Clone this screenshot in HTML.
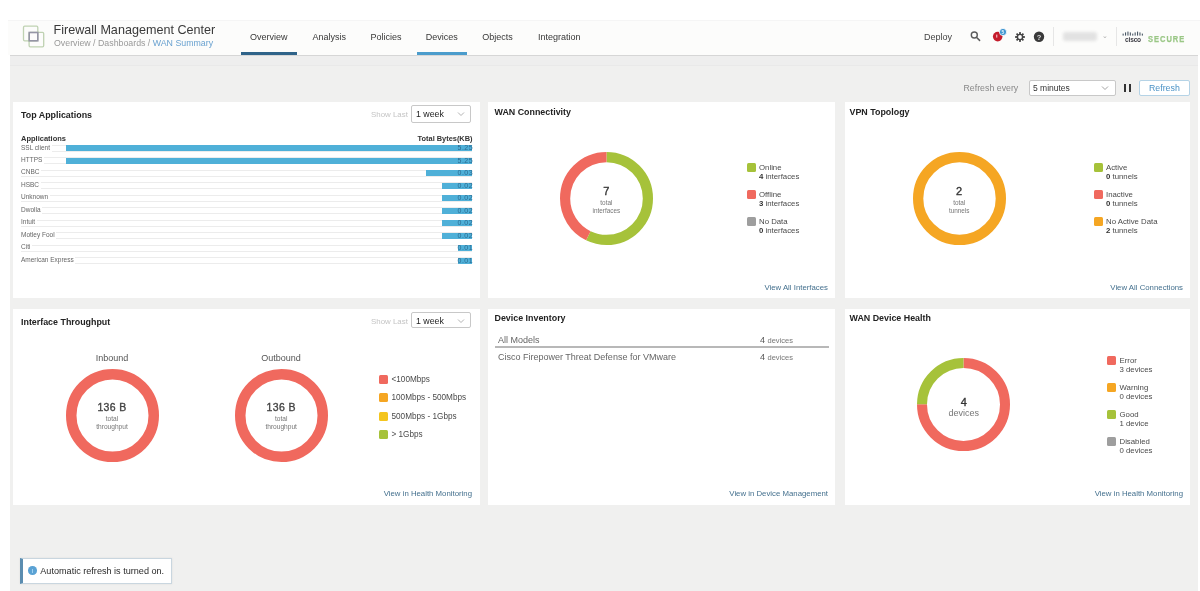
<!DOCTYPE html>
<html><head><meta charset="utf-8">
<style>
*{margin:0;padding:0;box-sizing:border-box}
html,body{width:1200px;height:591px;overflow:hidden;background:#fff;font-family:"Liberation Sans",sans-serif;color:#333}
.a{position:absolute;white-space:nowrap}
#main{position:absolute;left:10px;top:55px;width:1188px;height:536px;background:#f0f0ef;border-top:1px solid #d6d6d6}
#band{position:absolute;left:10px;top:56px;width:1188px;height:10px;background:#eeeeee;border-bottom:1px solid #e9e9e9}
.card{position:absolute;background:#fff}
.ttl{position:absolute;font-weight:bold;font-size:8.9px;color:#222}
.link{position:absolute;font-size:7.8px;color:#44708e;white-space:nowrap}
.sq{position:absolute;width:9px;height:9px;border-radius:1.5px}
.lg{position:absolute;font-size:7.8px;color:#4a4a4a;line-height:9px;white-space:nowrap}
.lg b{color:#333}
.nav{position:absolute;top:32px;font-size:9px;color:#383838}
.sel{position:absolute;border:1px solid #c8c8c8;border-radius:2px;background:#fff}
</style></head><body><div id="wrap" style="position:absolute;left:0;top:0;width:1200px;height:591px;overflow:hidden;filter:blur(0.45px)">

<!-- header -->
<div class="a" style="left:8px;top:20px;width:1192px;height:35px;background:#fcfcfb;border-top:1px solid #f5f5f5"></div>
<svg class="a" style="left:20px;top:23px" width="28" height="27" viewBox="0 0 28 27">
 <rect x="3.5" y="3.2" width="14.3" height="14.6" rx="1.2" fill="none" stroke="#bfd2b2" stroke-width="1.3"/>
 <rect x="9.1" y="9.4" width="14.6" height="14.4" rx="1.2" fill="none" stroke="#bfd2b2" stroke-width="1.3"/>
 <rect x="9.2" y="9.5" width="8.6" height="8.3" fill="none" stroke="#9595a5" stroke-width="1.6"/>
</svg>
<div class="a" style="left:53.5px;top:22.5px;font-size:12.6px;color:#3a3a3a">Firewall Management Center</div>
<div class="a" style="left:54px;top:38px;font-size:8.8px;color:#999">Overview / Dashboards / <span style="color:#6aa2d0">WAN Summary</span></div>

<div class="nav" style="left:250px">Overview</div>
<div class="nav" style="left:312.5px">Analysis</div>
<div class="nav" style="left:370.4px">Policies</div>
<div class="nav" style="left:425.8px">Devices</div>
<div class="nav" style="left:482.2px">Objects</div>
<div class="nav" style="left:538px">Integration</div>
<div class="a" style="left:241px;top:52px;width:56px;height:3px;background:#2f6389"></div>
<div class="a" style="left:417px;top:52px;width:50px;height:3px;background:#4b9ccc"></div>

<div class="a" style="left:924px;top:31.8px;font-size:9px;color:#444">Deploy</div>
<svg class="a" style="left:968px;top:29px" width="14" height="14" viewBox="0 0 14 14">
 <circle cx="6.3" cy="6" r="3.0" fill="none" stroke="#5c5c5c" stroke-width="1.4"/>
 <line x1="8.4" y1="8.2" x2="11.6" y2="11.4" stroke="#5c5c5c" stroke-width="1.5" stroke-linecap="round"/>
</svg>
<svg class="a" style="left:990px;top:26px" width="20" height="18" viewBox="0 0 20 18">
 <circle cx="7.7" cy="10.6" r="4.8" fill="#c41c2c"/>
 <circle cx="13" cy="6" r="3.6" fill="#3c94d0" stroke="#fff" stroke-width="0.8"/><text x="13" y="7.8" text-anchor="middle" font-family="Liberation Sans" font-weight="bold" font-size="5" fill="#e8f4fb">5</text><rect x="6.2" y="8.6" width="1.1" height="3" fill="#f3c9cc"/>
</svg>
<svg class="a" style="left:1013px;top:30px" width="14" height="14" viewBox="0 0 14 14">
 <g transform="translate(7,7)" fill="#444">
  <circle r="3.3"/>
  <rect x="-0.9" y="-4.9" width="1.8" height="9.8"/>
  <rect x="-0.9" y="-4.9" width="1.8" height="9.8" transform="rotate(45)"/>
  <rect x="-0.9" y="-4.9" width="1.8" height="9.8" transform="rotate(90)"/>
  <rect x="-0.9" y="-4.9" width="1.8" height="9.8" transform="rotate(135)"/>
  <circle r="1.9" fill="#fff"/>
 </g>
</svg>
<svg class="a" style="left:1032px;top:30px" width="14" height="14" viewBox="0 0 14 14">
 <circle cx="7" cy="6.8" r="5.2" fill="#3a3a3a"/>
 <text x="7" y="9.6" text-anchor="middle" font-family="Liberation Sans" font-weight="bold" font-size="7.5" fill="#ddd">?</text>
</svg>
<div class="a" style="left:1053px;top:27px;width:1px;height:19px;background:#e6e6e6"></div>
<div class="a" style="left:1063px;top:32px;width:34px;height:9px;background:#e2e2e2;border-radius:3px;filter:blur(1.5px)"></div>
<div class="a" style="left:1102px;top:32px;font-size:7px;color:#aaa">&#8964;</div>
<div class="a" style="left:1116px;top:27px;width:1px;height:19px;background:#e6e6e6"></div>
<svg class="a" style="left:1122px;top:31px" width="22" height="12" viewBox="0 0 22 12">
 <g fill="#4a5866">
  <rect x="0.6" y="2.6" width="1.1" height="2"/><rect x="3" y="1.4" width="1.1" height="3.2"/><rect x="5.4" y="0.6" width="1.1" height="4"/><rect x="7.8" y="1.4" width="1.1" height="3.2"/><rect x="10.2" y="2.6" width="1.1" height="2"/><rect x="12.6" y="1.4" width="1.1" height="3.2"/><rect x="15" y="0.6" width="1.1" height="4"/><rect x="17.4" y="1.4" width="1.1" height="3.2"/><rect x="19.8" y="2.6" width="1.1" height="2"/>
 </g>
 <text x="11" y="10.6" text-anchor="middle" font-family="Liberation Sans" font-weight="bold" font-size="6.6" fill="#3c3c44" letter-spacing="-0.2">cisco</text>
</svg>
<div class="a" style="left:1147.5px;top:32.5px;font-size:9.4px;line-height:normal;font-weight:bold;color:#9ac786;letter-spacing:1.25px;transform:scaleX(0.8);transform-origin:0 0;-webkit-text-stroke:0.25px #9ac786">SECURE</div>

<!-- main -->
<div id="main"></div><div id="band"></div>

<div class="a" style="left:963.5px;top:83px;font-size:8.8px;color:#888">Refresh every</div>
<div class="sel" style="left:1029px;top:79.5px;width:87px;height:16.5px"></div>
<div class="a" style="left:1033px;top:83px;font-size:8.5px;color:#333">5 minutes</div>
<svg class="a" style="left:1101px;top:85px" width="8" height="6" viewBox="0 0 8 6"><path d="M1 1.5 L4 4.5 L7 1.5" fill="none" stroke="#999" stroke-width="0.9"/></svg>
<div class="a" style="left:1124px;top:83.5px;width:2.3px;height:8.5px;background:#333"></div>
<div class="a" style="left:1128.5px;top:83.5px;width:2.3px;height:8.5px;background:#333"></div>
<div class="sel" style="left:1138.5px;top:79.5px;width:51px;height:16.5px;border-color:#b5d3e6"></div>
<div class="a" style="left:1149px;top:83px;font-size:8.8px;color:#4a92c6">Refresh</div>

<!-- cards -->
<div class="card" style="left:13px;top:102px;width:467px;height:196px"></div>
<div class="card" style="left:488px;top:102px;width:347px;height:196px"></div>
<div class="card" style="left:845px;top:102px;width:345px;height:196px"></div>
<div class="card" style="left:13px;top:309px;width:467px;height:196px"></div>
<div class="card" style="left:488px;top:309px;width:347px;height:196px"></div>
<div class="card" style="left:845px;top:309px;width:345px;height:196px"></div>

<!-- Top Applications -->
<div class="ttl" style="left:21px;top:109.5px">Top Applications</div>
<div class="a" style="left:371px;top:110px;font-size:7.9px;color:#c4c4c4">Show Last</div>
<div class="sel" style="left:411px;top:104.6px;width:59.5px;height:18.3px"></div>
<div class="a" style="left:416px;top:109px;font-size:8.8px;color:#222">1 week</div>
<svg class="a" style="left:456.5px;top:111px" width="8" height="6" viewBox="0 0 8 6"><path d="M1 1.5 L4 4.5 L7 1.5" fill="none" stroke="#aaa" stroke-width="0.9"/></svg>
<div class="a" style="left:21px;top:133.5px;font-size:7.5px;font-weight:bold;color:#333">Applications</div>
<div class="a" style="left:372px;top:134px;width:100.5px;text-align:right;font-size:7.4px;font-weight:bold;color:#333">Total Bytes(KB)</div>
<div class="a" style="left:21px;top:144.80px;width:451.4px;height:7px;border-top:1px solid #ececec;border-bottom:1px solid #ececec"></div>
<div class="a" style="left:21px;top:143.50px;font-size:6.5px;color:#666;line-height:8px;background:#fff;padding-right:1.5px">SSL client</div>
<div class="a" style="left:66px;top:145.30px;width:406.40px;height:6px;background:#4fb0d8"></div>
<div class="a" style="left:442px;top:144.30px;width:31px;text-align:right;font-size:7px;color:#2b6a90;line-height:8px;letter-spacing:0.45px">5.25</div>
<div class="a" style="left:21px;top:157.28px;width:451.4px;height:7px;border-top:1px solid #ececec;border-bottom:1px solid #ececec"></div>
<div class="a" style="left:21px;top:155.98px;font-size:6.5px;color:#666;line-height:8px;background:#fff;padding-right:1.5px">HTTPS</div>
<div class="a" style="left:66px;top:157.78px;width:406.40px;height:6px;background:#4fb0d8"></div>
<div class="a" style="left:442px;top:156.78px;width:31px;text-align:right;font-size:7px;color:#2b6a90;line-height:8px;letter-spacing:0.45px">5.25</div>
<div class="a" style="left:21px;top:169.76px;width:451.4px;height:7px;border-top:1px solid #ececec;border-bottom:1px solid #ececec"></div>
<div class="a" style="left:21px;top:168.46px;font-size:6.5px;color:#666;line-height:8px;background:#fff;padding-right:1.5px">CNBC</div>
<div class="a" style="left:426.4px;top:170.26px;width:46.00px;height:6px;background:#4fb0d8"></div>
<div class="a" style="left:442px;top:169.26px;width:31px;text-align:right;font-size:7px;color:#2b6a90;line-height:8px;letter-spacing:0.45px">0.03</div>
<div class="a" style="left:21px;top:182.24px;width:451.4px;height:7px;border-top:1px solid #ececec;border-bottom:1px solid #ececec"></div>
<div class="a" style="left:21px;top:180.94px;font-size:6.5px;color:#666;line-height:8px;background:#fff;padding-right:1.5px">HSBC</div>
<div class="a" style="left:442px;top:182.74px;width:30.40px;height:6px;background:#4fb0d8"></div>
<div class="a" style="left:442px;top:181.74px;width:31px;text-align:right;font-size:7px;color:#2b6a90;line-height:8px;letter-spacing:0.45px">0.02</div>
<div class="a" style="left:21px;top:194.72px;width:451.4px;height:7px;border-top:1px solid #ececec;border-bottom:1px solid #ececec"></div>
<div class="a" style="left:21px;top:193.42px;font-size:6.5px;color:#666;line-height:8px;background:#fff;padding-right:1.5px">Unknown</div>
<div class="a" style="left:442px;top:195.22px;width:30.40px;height:6px;background:#4fb0d8"></div>
<div class="a" style="left:442px;top:194.22px;width:31px;text-align:right;font-size:7px;color:#2b6a90;line-height:8px;letter-spacing:0.45px">0.02</div>
<div class="a" style="left:21px;top:207.20px;width:451.4px;height:7px;border-top:1px solid #ececec;border-bottom:1px solid #ececec"></div>
<div class="a" style="left:21px;top:205.90px;font-size:6.5px;color:#666;line-height:8px;background:#fff;padding-right:1.5px">Dwolla</div>
<div class="a" style="left:442px;top:207.70px;width:30.40px;height:6px;background:#4fb0d8"></div>
<div class="a" style="left:442px;top:206.70px;width:31px;text-align:right;font-size:7px;color:#2b6a90;line-height:8px;letter-spacing:0.45px">0.02</div>
<div class="a" style="left:21px;top:219.68px;width:451.4px;height:7px;border-top:1px solid #ececec;border-bottom:1px solid #ececec"></div>
<div class="a" style="left:21px;top:218.38px;font-size:6.5px;color:#666;line-height:8px;background:#fff;padding-right:1.5px">Intuit</div>
<div class="a" style="left:442px;top:220.18px;width:30.40px;height:6px;background:#4fb0d8"></div>
<div class="a" style="left:442px;top:219.18px;width:31px;text-align:right;font-size:7px;color:#2b6a90;line-height:8px;letter-spacing:0.45px">0.02</div>
<div class="a" style="left:21px;top:232.16px;width:451.4px;height:7px;border-top:1px solid #ececec;border-bottom:1px solid #ececec"></div>
<div class="a" style="left:21px;top:230.86px;font-size:6.5px;color:#666;line-height:8px;background:#fff;padding-right:1.5px">Motley Fool</div>
<div class="a" style="left:442px;top:232.66px;width:30.40px;height:6px;background:#4fb0d8"></div>
<div class="a" style="left:442px;top:231.66px;width:31px;text-align:right;font-size:7px;color:#2b6a90;line-height:8px;letter-spacing:0.45px">0.02</div>
<div class="a" style="left:21px;top:244.64px;width:451.4px;height:7px;border-top:1px solid #ececec;border-bottom:1px solid #ececec"></div>
<div class="a" style="left:21px;top:243.34px;font-size:6.5px;color:#666;line-height:8px;background:#fff;padding-right:1.5px">Citi</div>
<div class="a" style="left:457.5px;top:245.14px;width:14.90px;height:6px;background:#4fb0d8"></div>
<div class="a" style="left:442px;top:244.14px;width:31px;text-align:right;font-size:7px;color:#2b6a90;line-height:8px;letter-spacing:0.45px">0.01</div>
<div class="a" style="left:21px;top:257.12px;width:451.4px;height:7px;border-top:1px solid #ececec;border-bottom:1px solid #ececec"></div>
<div class="a" style="left:21px;top:255.82px;font-size:6.5px;color:#666;line-height:8px;background:#fff;padding-right:1.5px">American Express</div>
<div class="a" style="left:457.5px;top:257.62px;width:14.90px;height:6px;background:#4fb0d8"></div>
<div class="a" style="left:442px;top:256.62px;width:31px;text-align:right;font-size:7px;color:#2b6a90;line-height:8px;letter-spacing:0.45px">0.01</div>

<!-- WAN Connectivity -->
<div class="ttl" style="left:494.5px;top:106.5px">WAN Connectivity</div>
<svg class="a" style="left:557.90px;top:150.00px" width="97" height="97" viewBox="0 0 97 97"><g transform="rotate(-90 48.5 48.5)"><circle cx="48.5" cy="48.5" r="41.40" fill="none" stroke="#a6c23a" stroke-width="10.2" stroke-dasharray="148.642 260.124" stroke-dashoffset="0.000"/><circle cx="48.5" cy="48.5" r="41.40" fill="none" stroke="#f0695e" stroke-width="10.2" stroke-dasharray="111.482 260.124" stroke-dashoffset="-148.642"/></g></svg>
<div class="a" style="left:586.4px;top:184.8px;width:40px;text-align:center;font-size:11px;color:#333;-webkit-text-stroke:0.35px #333">7</div>
<div class="a" style="left:576.4px;top:198.8px;width:60px;text-align:center;font-size:6.4px;color:#777;line-height:8px">total<br>interfaces</div>
<div class="sq" style="left:746.5px;top:162.5px;background:#a6c23a"></div>
<div class="lg" style="left:759px;top:162.5px">Online<br><b>4</b> interfaces</div>
<div class="sq" style="left:746.5px;top:189.5px;background:#f0695e"></div>
<div class="lg" style="left:759px;top:189.5px">Offline<br><b>3</b> interfaces</div>
<div class="sq" style="left:746.5px;top:216.5px;background:#9e9e9e"></div>
<div class="lg" style="left:759px;top:216.5px">No Data<br><b>0</b> interfaces</div>
<div class="link" style="right:372px;top:282.5px">View All Interfaces</div>

<!-- VPN Topology -->
<div class="ttl" style="left:849.5px;top:106.5px">VPN Topology</div>
<svg class="a" style="left:910.70px;top:150.20px" width="97" height="97" viewBox="0 0 97 97"><g transform="rotate(-90 48.5 48.5)"><circle cx="48.5" cy="48.5" r="41.35" fill="none" stroke="#f5a623" stroke-width="10.3" stroke-dasharray="259.810 259.810" stroke-dashoffset="0.000"/></g></svg>
<div class="a" style="left:939px;top:184.8px;width:40px;text-align:center;font-size:11px;color:#333;-webkit-text-stroke:0.35px #333">2</div>
<div class="a" style="left:929.2px;top:199.3px;width:60px;text-align:center;font-size:6.4px;color:#777;line-height:8px">total<br>tunnels</div>
<div class="sq" style="left:1093.5px;top:162.5px;background:#a6c23a"></div>
<div class="lg" style="left:1106px;top:162.5px">Active<br><b>0</b> tunnels</div>
<div class="sq" style="left:1093.5px;top:189.5px;background:#f0695e"></div>
<div class="lg" style="left:1106px;top:189.5px">Inactive<br><b>0</b> tunnels</div>
<div class="sq" style="left:1093.5px;top:216.5px;background:#f5a623"></div>
<div class="lg" style="left:1106px;top:216.5px">No Active Data<br><b>2</b> tunnels</div>
<div class="link" style="right:17px;top:282.5px">View All Connections</div>

<!-- Interface Throughput -->
<div class="ttl" style="left:21px;top:316.5px">Interface Throughput</div>
<div class="a" style="left:371px;top:317px;font-size:7.9px;color:#c4c4c4">Show Last</div>
<div class="sel" style="left:411px;top:311.6px;width:59.5px;height:16.8px"></div>
<div class="a" style="left:416px;top:315.7px;font-size:8.8px;color:#222">1 week</div>
<svg class="a" style="left:456.5px;top:317.5px" width="8" height="6" viewBox="0 0 8 6"><path d="M1 1.5 L4 4.5 L7 1.5" fill="none" stroke="#aaa" stroke-width="0.9"/></svg>
<div class="a" style="left:82px;top:353px;width:60px;text-align:center;font-size:9px;color:#555">Inbound</div>
<div class="a" style="left:251px;top:353px;width:60px;text-align:center;font-size:9px;color:#555">Outbound</div>
<svg class="a" style="left:63.70px;top:367.20px" width="97" height="97" viewBox="0 0 97 97"><g transform="rotate(-90 48.5 48.5)"><circle cx="48.5" cy="48.5" r="41.25" fill="none" stroke="#f0695e" stroke-width="10.5" stroke-dasharray="259.181 259.181" stroke-dashoffset="0.000"/></g></svg>
<svg class="a" style="left:232.80px;top:367.20px" width="97" height="97" viewBox="0 0 97 97"><g transform="rotate(-90 48.5 48.5)"><circle cx="48.5" cy="48.5" r="41.25" fill="none" stroke="#f0695e" stroke-width="10.5" stroke-dasharray="259.181 259.181" stroke-dashoffset="0.000"/></g></svg>
<div class="a" style="left:82px;top:400.5px;width:60px;text-align:center;font-size:10.5px;color:#444;letter-spacing:0.35px;-webkit-text-stroke:0.35px #444">136 B</div>
<div class="a" style="left:82px;top:415.3px;width:60px;text-align:center;font-size:6.6px;color:#777;line-height:7.8px">total<br>throughput</div>
<div class="a" style="left:251.2px;top:400.5px;width:60px;text-align:center;font-size:10.5px;color:#444;letter-spacing:0.35px;-webkit-text-stroke:0.35px #444">136 B</div>
<div class="a" style="left:251.2px;top:415.3px;width:60px;text-align:center;font-size:6.6px;color:#777;line-height:7.8px">total<br>throughput</div>
<div class="sq" style="left:379px;top:374.5px;background:#f0695e"></div>
<div class="lg" style="left:391.5px;top:374.5px;font-size:8.2px">&lt;100Mbps</div>
<div class="sq" style="left:379px;top:393px;background:#f5a623"></div>
<div class="lg" style="left:391.5px;top:393px;font-size:8.2px">100Mbps - 500Mbps</div>
<div class="sq" style="left:379px;top:411.5px;background:#f4c51e"></div>
<div class="lg" style="left:391.5px;top:411.5px;font-size:8.2px">500Mbps - 1Gbps</div>
<div class="sq" style="left:379px;top:430px;background:#a6c23a"></div>
<div class="lg" style="left:391.5px;top:430px;font-size:8.2px">&gt; 1Gbps</div>
<div class="link" style="right:728px;top:488.5px">View in Health Monitoring</div>

<!-- Device Inventory -->
<div class="ttl" style="left:494.5px;top:313px">Device Inventory</div>
<div class="a" style="left:498px;top:334.5px;font-size:9px;color:#666">All Models</div>
<div class="a" style="left:760px;top:334.5px;font-size:9px;color:#555">4 <span style="font-size:7.5px;color:#777">devices</span></div>
<div class="a" style="left:494.5px;top:346px;width:334px;height:1.5px;background:#b8b8b8"></div>
<div class="a" style="left:498px;top:351.5px;font-size:9px;color:#666">Cisco Firepower Threat Defense for VMware</div>
<div class="a" style="left:760px;top:351.5px;font-size:9px;color:#555">4 <span style="font-size:7.5px;color:#777">devices</span></div>
<div class="link" style="right:372px;top:488.5px">View in Device Management</div>

<!-- WAN Device Health -->
<div class="ttl" style="left:849.5px;top:313px">WAN Device Health</div>
<svg class="a" style="left:915.30px;top:355.70px" width="97" height="97" viewBox="0 0 97 97"><g transform="rotate(-90 48.5 48.5)"><circle cx="48.5" cy="48.5" r="41.50" fill="none" stroke="#f0695e" stroke-width="10" stroke-dasharray="195.564 260.752" stroke-dashoffset="0.000"/><circle cx="48.5" cy="48.5" r="41.50" fill="none" stroke="#a6c23a" stroke-width="10" stroke-dasharray="65.188 260.752" stroke-dashoffset="-195.564"/></g></svg>
<div class="a" style="left:943.8px;top:395.8px;width:40px;text-align:center;font-size:11px;color:#333;-webkit-text-stroke:0.35px #333">4</div>
<div class="a" style="left:933.8px;top:407.7px;width:60px;text-align:center;font-size:9px;color:#777">devices</div>
<div class="sq" style="left:1107px;top:355.5px;background:#f0695e"></div>
<div class="lg" style="left:1119.5px;top:355.5px">Error<br>3 devices</div>
<div class="sq" style="left:1107px;top:382.5px;background:#f5a623"></div>
<div class="lg" style="left:1119.5px;top:382.5px">Warning<br>0 devices</div>
<div class="sq" style="left:1107px;top:409.5px;background:#a6c23a"></div>
<div class="lg" style="left:1119.5px;top:409.5px">Good<br>1 device</div>
<div class="sq" style="left:1107px;top:436.5px;background:#9e9e9e"></div>
<div class="lg" style="left:1119.5px;top:436.5px">Disabled<br>0 devices</div>
<div class="link" style="right:17px;top:488.5px">View in Health Monitoring</div>

<!-- toast -->
<div class="a" style="left:19.5px;top:558.3px;width:152.5px;height:26px;background:#fff;border:1px solid #c9d6df;border-left:3px solid #5b8db0;box-shadow:0 0 2px rgba(0,0,0,0.08)"></div>
<div class="a" style="left:28.4px;top:566px;width:8.6px;height:8.6px;border-radius:50%;background:#5aa2d4"></div><div class="a" style="left:32.2px;top:568.5px;width:1.1px;height:4px;background:#9fd0f0"></div>
<div class="a" style="left:40.3px;top:566px;font-size:9.1px;color:#2a2a2a">Automatic refresh is turned on.</div>

</div></body></html>
